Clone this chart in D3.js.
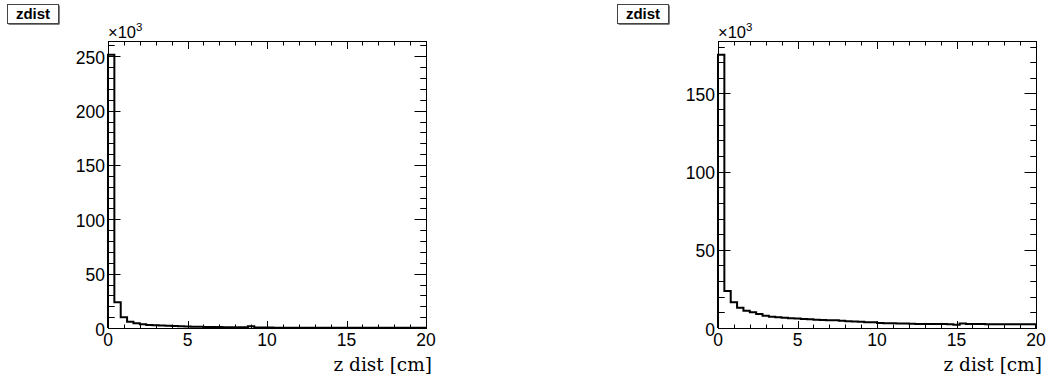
<!DOCTYPE html>
<html>
<head>
<meta charset="utf-8">
<script src="https://cdn.jsdelivr.net/npm/d3@7"></script>
<style>
  html, body { margin: 0; padding: 0; background: #fff; }
  svg { display: block; }
</style>
</head>
<body>
<svg id="c" width="1050" height="383"></svg>
<script>
// z distance histograms, 50 bins of 0.4 cm between 0 and 20 cm (counts in thousands)
const xMin = 0, xMax = 20, nBins = 50;
const xTicks = [0, 5, 10, 15, 20];
const leftYTicks = [0, 50, 100, 150, 200, 250];
const rightYTicks = [0, 50, 100, 150];

const zdistLeft = [
  251.5, 23.6, 9.8, 5.8, 4.3, 3.4, 2.8, 2.5, 2.2, 2.0,
  1.8, 1.6, 1.3, 1.2, 1.1, 1.0, 0.9, 0.85, 0.8, 0.75,
  0.7, 0.6, 1.5, 0.5, 0.4, 0.35, 0.3, 0.3, 0.3, 0.3,
  0.25, 0.25, 0.25, 0.25, 0.2, 0.2, 0.2, 0.2, 0.2, 0.2,
  0.2, 0.2, 0.2, 0.2, 0.2, 0.2, 0.2, 0.2, 0.2, 0.2
];
const zdistRight = [
  174.8, 23.6, 16.4, 13.0, 11.1, 10.0, 8.9, 7.9, 7.2, 6.8,
  6.5, 6.3, 6.0, 5.8, 5.6, 5.3, 5.1, 5.0, 4.9, 4.6,
  4.3, 4.2, 4.0, 3.7, 3.6, 3.2, 3.1, 3.0, 2.9, 2.8,
  2.7, 2.6, 2.6, 2.6, 2.5, 2.5, 2.4, 2.1, 2.9, 2.5,
  2.5, 2.5, 2.4, 2.4, 2.4, 2.4, 2.4, 2.4, 2.4, 2.4
];

const svg = d3.select("#c");
const sans = "'Liberation Sans', Arial, Helvetica, sans-serif";

function drawPanel(offsetX, values, yTicks, title) {
  const left = 108 + offsetX, right = 426 + offsetX, top = 41, bottom = 328;
  const g = svg.append("g");
  const binW = (xMax - xMin) / nBins;
  const yMax = d3.max(values) * 1.05;

  const x = d3.scaleLinear().domain([xMin, xMax]).range([left, right]);
  const y = d3.scaleLinear().domain([0, yMax]).range([bottom, top]);

  // histogram outline
  const pts = [[xMin, 0]];
  values.forEach((v, i) => pts.push([xMin + i * binW, v]));
  pts.push([xMax, values[values.length - 1]]);
  pts.push([xMax, 0]);
  const line = d3.line().x(d => x(d[0])).y(d => y(d[1])).curve(d3.curveStepAfter);
  g.append("path").attr("d", line(pts))
    .attr("fill", "none").attr("stroke", "#000").attr("stroke-width", 2)
    .attr("stroke-linejoin", "miter");

  // frame
  g.append("rect").attr("x", left + 0.5).attr("y", top + 0.5)
    .attr("width", right - left).attr("height", bottom - top)
    .attr("fill", "none").attr("stroke", "#000").attr("stroke-width", 1);

  // x ticks (bottom and top), minor every 1 cm
  const xMinor = d3.range(xMin, xMax + 0.001, 1);
  const ticks = g.append("g").attr("stroke", "#000").attr("stroke-width", 1);
  xMinor.forEach(t => {
    const major = xTicks.includes(t);
    const len = major ? 7 : 3.5;
    const px = Math.round(x(t)) + 0.5;
    ticks.append("line").attr("x1", px).attr("x2", px).attr("y1", bottom).attr("y2", bottom - len);
    ticks.append("line").attr("x1", px).attr("x2", px).attr("y1", top + 1).attr("y2", top + 1 + len);
  });

  // y ticks (left and right), minor every 10k
  const yMinor = d3.range(0, yMax, 10);
  yMinor.forEach(t => {
    const major = yTicks.includes(t);
    const len = major ? 11.5 : 5.75;
    const py = Math.round(y(t)) + 0.5;
    ticks.append("line").attr("x1", left + 1).attr("x2", left + 1 + len).attr("y1", py).attr("y2", py);
    ticks.append("line").attr("x1", right).attr("x2", right - len).attr("y1", py).attr("y2", py);
  });

  // tick labels
  g.selectAll(".xl").data(xTicks).enter().append("text")
    .attr("x", d => x(d)).attr("y", bottom + 18)
    .attr("text-anchor", "middle")
    .attr("font-family", sans).attr("font-size", 17.5).attr("fill", "#000")
    .text(d => d);
  g.selectAll(".yl").data(yTicks).enter().append("text")
    .attr("x", left - 3).attr("y", d => y(d) + 7.5)
    .attr("text-anchor", "end")
    .attr("font-family", sans).attr("font-size", 17.5).attr("fill", "#000")
    .text(d => d);

  // exponent label
  const ex = g.append("text").attr("x", left).attr("y", top - 3)
    .attr("font-family", sans).attr("font-size", 16.5).attr("fill", "#000");
  ex.append("tspan").text("\u00d710");
  ex.append("tspan").attr("font-size", 11.5).attr("dy", -7).text("3");

  // axis title
  g.append("text").attr("x", right + 6).attr("y", 371)
    .attr("text-anchor", "end")
    .attr("font-family", "'DejaVu Serif', 'Liberation Serif', serif")
    .attr("font-size", 18.5).attr("fill", "#000")
    .text("z dist [cm]");

  // title box with shadow
  const bx = offsetX + 7, by = 4, bw = 51, bh = 19;
  g.append("rect").attr("x", bx + 1.5).attr("y", by + 1.5).attr("width", bw).attr("height", bh)
    .attr("fill", "#000");
  g.append("rect").attr("x", bx + 0.5).attr("y", by + 0.5).attr("width", bw).attr("height", bh)
    .attr("fill", "#fff").attr("stroke", "#444").attr("stroke-width", 1);
  g.append("text").attr("x", bx + bw / 2 + 0.5).attr("y", by + 15)
    .attr("text-anchor", "middle")
    .attr("font-family", sans).attr("font-weight", "bold").attr("font-size", 15).attr("fill", "#000")
    .text(title);
}

drawPanel(0, zdistLeft, leftYTicks, "zdist");
drawPanel(610, zdistRight, rightYTicks, "zdist");
</script>
</body>
</html>
